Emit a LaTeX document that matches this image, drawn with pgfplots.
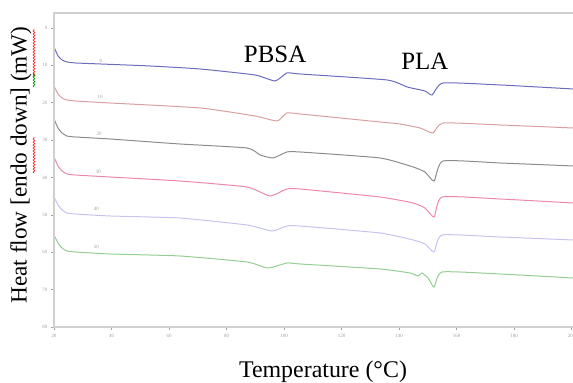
\documentclass[border=0pt]{standalone}
\usepackage{pgfplots}
\pgfplotsset{compat=1.18}
\usetikzlibrary{decorations.pathmorphing}
\usepackage{fontspec}
\setmainfont{Liberation Serif}
\definecolor{axgray}{HTML}{D0D0D0}
\definecolor{tkgray}{HTML}{A0A0A0}
\definecolor{cblue}{HTML}{6C6CBC}
\definecolor{cred}{HTML}{D8A0A0}
\definecolor{cgray}{HTML}{8C8C8C}
\definecolor{cpink}{HTML}{EE88AA}
\definecolor{clav}{HTML}{C4C4EE}
\definecolor{cgreen}{HTML}{94CE94}
\begin{document}
\begin{tikzpicture}
\begin{axis}[
  scale only axis, width=519bp, height=314bp,
  xmin=20, xmax=200.5, ymin=-4, ymax=80, y dir=reverse,
  axis line style={draw=none},
  xtick={20,40,...,200}, ytick={0,10,...,80},
  tick pos=left,
  tick style={tkgray, line width=0.6bp},
  major tick length=3bp,
  tick align=outside,
  ticklabel style={font=\fontsize{5}{5}\selectfont, text=tkgray},
  /pgf/number format/assume math mode=true,
  xticklabel style={yshift=-1bp},
  clip=false,
  every axis plot/.append style={line width=1.0bp, no markers, smooth, tension=0.3},
]
\addplot[cblue] coordinates {(20,5.08)(21.4,7.49)(22.8,8.56)(24.5,9.10)(27.3,9.36)(36,9.63)(53.4,10.17)(70.8,10.97)(89.9,12.58)(96.9,14.18)(101,12.04)(105.6,12.31)(135.8,13.91)(142.8,15.79)(149,16.86)(151.5,17.93)(155.3,14.72)(175.1,15.25)(200.5,16.32)};
\addplot[cred] coordinates {(20,15.52)(21.4,17.66)(22.8,18.73)(24.5,19.26)(27.3,19.53)(39.5,20.07)(70.8,21.40)(89.9,23.55)(97.6,24.88)(101,22.74)(105.6,23.01)(133.4,25.15)(140.3,25.69)(147.3,26.76)(151.8,28.09)(155.3,25.42)(175.1,25.95)(200.5,26.76)};
\addplot[cgray] coordinates {(20,24.35)(21.4,26.76)(22.8,28.09)(24.5,28.90)(27.3,29.16)(39.5,29.70)(63.8,31.04)(87.1,32.11)(91.7,33.98)(96.2,34.78)(101,33.18)(105.6,33.18)(133.4,34.78)(144.9,37.19)(149,38.53)(152.2,40.94)(155.3,35.59)(175.1,36.12)(200.5,36.92)};
\addplot[cpink] coordinates {(20,34.52)(21.4,36.92)(22.8,38.26)(24.5,39.06)(27.3,39.33)(39.5,39.87)(63.8,40.94)(87.1,42.54)(95.1,44.95)(101,43.08)(105.6,43.08)(133.4,45.22)(144.9,46.82)(149,48.16)(152.2,50.57)(155,45.22)(175.1,45.75)(200.5,46.82)};
\addplot[clav] coordinates {(20,45.22)(21.4,47.36)(22.8,48.70)(24.5,49.50)(27.3,49.77)(39.5,50.30)(63.8,50.84)(87.1,52.71)(95.8,54.31)(101,52.98)(105.6,52.98)(133.4,54.85)(144.9,56.72)(149,57.79)(152.2,59.93)(155,55.38)(175.1,55.92)(200.5,56.72)};
\addplot[cgreen] coordinates {(20,55.38)(21.4,57.53)(22.8,58.86)(24.5,59.67)(27.3,59.93)(39.5,60.47)(63.8,61.00)(87.1,62.61)(94.4,64.21)(101,62.88)(105.6,63.14)(133.4,64.48)(143.8,65.55)(146.6,66.35)(148,65.55)(150.1,66.89)(152.2,69.30)(155,65.28)(175.1,65.82)(200.5,66.89)};
\begin{scope}[font=\fontsize{5}{5}\selectfont, text=tkgray]
\node at (axis cs:36.3,8.8) {0};
\node at (axis cs:36.0,18.5) {10};
\node at (axis cs:35.7,28.4) {20};
\node at (axis cs:35.4,38.5) {30};
\node at (axis cs:34.7,48.4) {40};
\node at (axis cs:34.7,58.6) {50};
\end{scope}
\node[font=\fontsize{25}{25}\selectfont] at (axis cs:96.9,7.0) {PBSA};
\node[font=\fontsize{25}{25}\selectfont] at (axis cs:149,8.8) {PLA};
\draw[axgray, line width=1.4bp] (axis description cs:1,1) -- (axis description cs:0,1) -- (axis description cs:0,0) -- (axis description cs:1,0);
\coordinate (O) at (axis description cs:0,0);
\end{axis}
\node[font=\fontsize{24}{24}\selectfont] at ([shift={(269bp,-45bp)}]O) {Temperature (°C)};
\node[font=\fontsize{23.3}{23.3}\selectfont, rotate=90] at ([shift={(-33bp,162bp)}]O) {Heat flow [endo down] (mW)};
\draw[red!85, line width=0.7bp, decorate, decoration={snake, amplitude=0.9bp, segment length=3bp}] ([shift={(-20bp,154bp)}]O) -- ([shift={(-20bp,190bp)}]O);
\draw[red!85, line width=0.7bp, decorate, decoration={snake, amplitude=0.9bp, segment length=3bp}] ([shift={(-20bp,250bp)}]O) -- ([shift={(-20bp,298bp)}]O);
\draw[green!60!black, line width=0.7bp, decorate, decoration={snake, amplitude=0.9bp, segment length=3bp}] ([shift={(-20bp,240bp)}]O) -- ([shift={(-20bp,254bp)}]O);
\pgfresetboundingbox
\path (O) ++(-54bp,-56bp) rectangle ++(573bp,383bp);
\end{tikzpicture}
\end{document}
